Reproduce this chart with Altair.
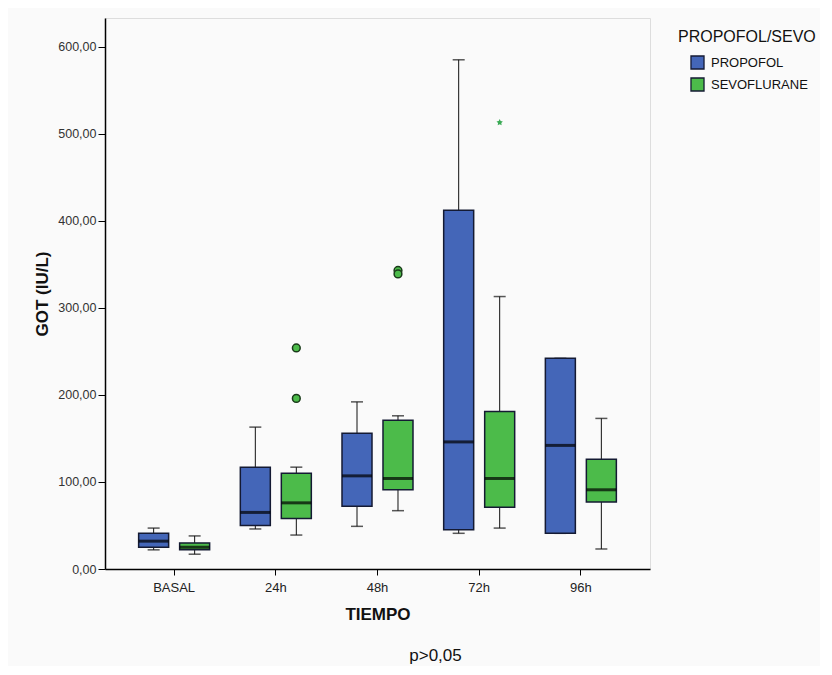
import altair as alt
import pandas as pd

times = ["BASAL", "24h", "48h", "72h", "96h"]
groups = ["PROPOFOL", "SEVOFLURANE"]

# box statistics per time point (min whisker, Q1, median, Q3, max whisker)
prop_min = [22, 46, 49, 41, 41]
prop_q1 = [25, 50, 72, 45, 41]
prop_med = [32, 65, 107, 146, 142]
prop_q3 = [41, 117, 156, 412, 242]
prop_max = [47, 163, 192, 585, 242]

sevo_min = [17, 39, 67, 47, 23]
sevo_q1 = [22, 58, 91, 71, 77]
sevo_med = [25, 76, 104, 104, 91]
sevo_q3 = [30, 110, 171, 181, 126]
sevo_max = [38, 117, 176, 313, 173]

# outliers (SEVOFLURANE)
out_time = ["24h", "24h", "48h", "48h"]
out_val = [254, 196, 343, 339]
ext_time = ["72h"]
ext_val = [513]

rows = []
for i, t in enumerate(times):
    rows.append(dict(time=t, group="PROPOFOL", lo=prop_min[i], q1=prop_q1[i],
                     med=prop_med[i], q3=prop_q3[i], hi=prop_max[i]))
    rows.append(dict(time=t, group="SEVOFLURANE", lo=sevo_min[i], q1=sevo_q1[i],
                     med=sevo_med[i], q3=sevo_q3[i], hi=sevo_max[i]))
df = pd.DataFrame(rows)
out_df = pd.DataFrame(dict(time=out_time, group="SEVOFLURANE", v=out_val))
ext_df = pd.DataFrame(dict(time=ext_time, group="SEVOFLURANE", v=ext_val))

BLUE = "#4466b8"
GREEN = "#4cbb4a"
EDGE = "#141a33"

yscale = alt.Scale(domain=[0, 633], nice=False, zero=True)
xenc = alt.X("time:N", sort=times,
             scale=alt.Scale(paddingInner=0, paddingOuter=0.18),
             axis=alt.Axis(title="TIEMPO", labelAngle=0, labelFontSize=13,
                           labelColor="#222", tickSize=6, tickColor="#000",
                           domainColor="#000", domainWidth=1.5, labelPadding=6,
                           titleFontSize=17, titleFontWeight="bold",
                           titlePadding=12, titleColor="#111"))
xoff = alt.XOffset("group:N", sort=groups,
                   scale=alt.Scale(paddingOuter=0.24, paddingInner=0))

yaxis = alt.Axis(title="GOT (IU/L)", values=[0, 100, 200, 300, 400, 500, 600],
                 labelExpr="replace(format(datum.value, '.2f'), '.', ',')",
                 labelFontSize=12.5, labelColor="#333", tickSize=7,
                 tickColor="#000", domainColor="#000", domainWidth=1.5,
                 labelPadding=2, grid=False, titleFontSize=17,
                 titleFontWeight="bold", titlePadding=6, titleColor="#111")

base = alt.Chart(df).encode(x=xenc, xOffset=xoff)

whisk = base.mark_rule(color="#111", strokeWidth=1).encode(
    y=alt.Y("lo:Q", scale=yscale, axis=yaxis), y2="hi:Q")
caps_lo = base.mark_tick(color="#111", size=12, thickness=1.5).encode(
    y=alt.Y("lo:Q", scale=yscale))
caps_hi = base.mark_tick(color="#111", size=12, thickness=1.5).encode(
    y=alt.Y("hi:Q", scale=yscale))
boxes = base.mark_bar(size=30, stroke=EDGE, strokeWidth=1.5).encode(
    y=alt.Y("q1:Q", scale=yscale), y2="q3:Q",
    color=alt.Color("group:N", sort=groups,
                    scale=alt.Scale(domain=groups, range=[BLUE, GREEN]),
                    legend=alt.Legend(title="PROPOFOL/SEVO", orient="none",
                                      legendX=573, legendY=11,
                                      titleFontSize=16, titleFontWeight="normal",
                                      titleColor="#111", titlePadding=10,
                                      labelFontSize=13, labelColor="#111",
                                      symbolType="square", symbolSize=170,
                                      symbolStrokeColor=EDGE,
                                      symbolStrokeWidth=1.3, symbolOffset=12,
                                      rowPadding=3, labelOffset=6)))
medians = base.mark_tick(color="#000", size=30, thickness=3).encode(
    y=alt.Y("med:Q", scale=yscale))

outs = alt.Chart(out_df).mark_point(
    shape="circle", filled=True, size=60, fill=GREEN, stroke="#1a3a1a",
    strokeWidth=1.5, opacity=1).encode(
    x=alt.X("time:N", sort=times), xOffset=alt.XOffset("group:N", sort=groups),
    y=alt.Y("v:Q", scale=yscale))

star = "M0,-1L0.29,-0.4L0.95,-0.31L0.48,0.15L0.59,0.81L0,0.5L-0.59,0.81L-0.48,0.15L-0.95,-0.31L-0.29,-0.4Z"
exts = alt.Chart(ext_df).mark_point(
    shape=star, filled=True, size=45, color="#3aaa55", opacity=1).encode(
    x=alt.X("time:N", sort=times), xOffset=alt.XOffset("group:N", sort=groups),
    y=alt.Y("v:Q", scale=yscale))

chart = alt.layer(whisk, caps_lo, caps_hi, boxes, medians, outs, exts).properties(
    width=545, height=551,
    padding={"left": 97, "top": 10, "right": 170, "bottom": 97},
    autosize=alt.AutoSizeParams(type="none"),
    background="#fafafa",
    title=alt.TitleParams("p>0,05", orient="bottom", fontSize=17,
                          fontWeight="normal", color="#111", dx=58, offset=26),
).configure_view(fill="#efefef", stroke="#222", strokeWidth=1.2
).configure(font="Arial")

chart.save("out.html", embed_options={"renderer": "svg", "actions": False})
